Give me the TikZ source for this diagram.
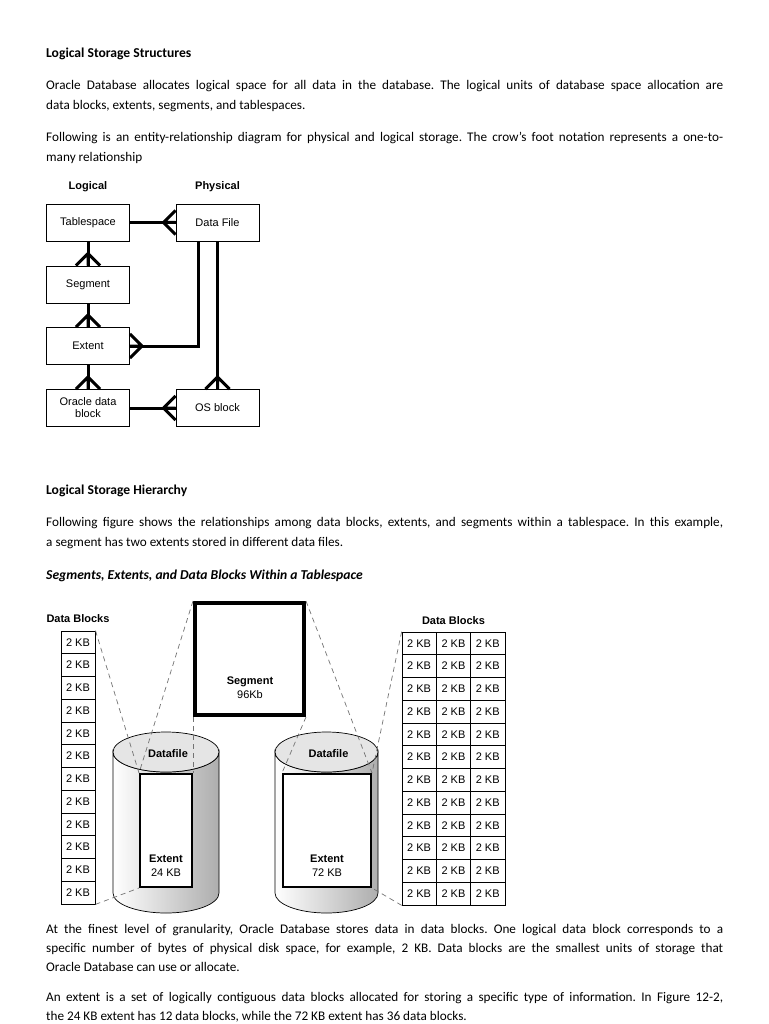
\documentclass[tikz,border=0pt]{standalone}
\usepackage{fontspec}
\setmainfont{Carlito}
\newfontfamily\diagfont{Liberation Sans}
\frenchspacing
\usetikzlibrary{calc}
\tikzset{
  para/.style={anchor=base west, inner sep=0pt, text width=677pt, align=justify, font=\fontsize{13.2}{20}\selectfont},
  heading/.style={anchor=base west, inner sep=0pt, font=\fontsize{13.6}{20}\selectfont\bfseries},
  erbox/.style={draw, line width=0.8pt, minimum width=83pt, minimum height=37pt, align=center, inner sep=1pt, font=\diagfont\fontsize{11}{12}\selectfont},
  er/.style={line width=3pt},
  erlabel/.style={font=\diagfont\fontsize{11}{12}\selectfont\bfseries},
  blk/.style={draw, line width=0.7pt, minimum width=34.3pt, minimum height=22.75pt, inner sep=0pt, font=\diagfont\fontsize{11}{12}\selectfont},
  extbox/.style={draw, line width=2pt, fill=white, inner sep=0pt},
  lbl/.style={font=\diagfont\fontsize{11}{14}\selectfont, align=center, inner sep=0pt},
  guide/.style={draw=black!55, line width=0.7pt, dash pattern=on 5pt off 4pt},
}
% crow's foot: #1 anchor on the "many" box, #2 offset of the apex, #3 half spread
\newcommand{\crowfoot}[3]{%
  \draw[er] ($(#1)+#2$) -- ($(#1)+#3$) ($(#1)+#2$) -- ($(#1)-#3$) ($(#1)+#2$) -- (#1);}

\begin{document}
\begin{tikzpicture}[x=1pt, y=-1pt]
  \useasboundingbox[fill=white] (0,0) rectangle (768,1024);
  % page text, top
  \node[heading] (h1) at (46,58) {Logical Storage Structures};
  \node[para] (p1) at (46,90) {Oracle Database allocates logical space for all data in the database. The logical units of database space allocation are \linebreak data blocks, extents, segments, and tablespaces.};
  \node[para] (p2) at (46,142) {Following is an entity-relationship diagram for physical and logical storage. The crow's foot notation represents a one-to-\linebreak many relationship};

  % entity-relationship diagram
  \node[erlabel] (logl) at (88,187) {Logical};
  \node[erlabel] (phys) at (217.5,187) {Physical};
  \node[erbox] (tbs) at (88,222.5) {Tablespace};
  \node[erbox] (dfile) at (217.5,222.5) {Data File};
  \node[erbox] (segm) at (88,284.5) {Segment};
  \node[erbox] (extn) at (88,346) {Extent};
  \node[erbox] (odb) at (88,408) {Oracle data\\block};
  \node[erbox] (osb) at (217.5,408) {OS block};
  \draw[er] (tbs.east) -- (dfile.west);
  \draw[er] (tbs.south) -- (segm.north);
  \draw[er] (segm.south) -- (extn.north);
  \draw[er] (extn.south) -- (odb.north);
  \draw[er] (odb.east) -- (osb.west);
  \draw[er] ([xshift=-19.5pt]dfile.south) |- (extn.east);
  \draw[er] (dfile.south) -- (osb.north);
  \crowfoot{dfile.west}{(-12,0)}{(0,12)}
  \crowfoot{segm.north}{(0,-12)}{(12,0)}
  \crowfoot{extn.north}{(0,-12)}{(12,0)}
  \crowfoot{odb.north}{(0,-12)}{(12,0)}
  \crowfoot{osb.west}{(-12,0)}{(0,12)}
  \crowfoot{extn.east}{(12,0)}{(0,12)}
  \crowfoot{osb.north}{(0,-12)}{(12,0)}

  % second section
  \node[heading] (h2) at (46,494) {Logical Storage Hierarchy};
  \node[para] (p3) at (46,526) {Following figure shows the relationships among data blocks, extents, and segments within a tablespace. In this example, \linebreak a segment has two extents stored in different data files.};
  \node[heading, font=\fontsize{13.6}{20}\selectfont\bfseries\itshape] (cap) at (46,579) {Segments, Extents, and Data Blocks Within a Tablespace};

  % data blocks
  \node[erlabel] (dbl) at (78,619) {Data Blocks};
  \foreach \i in {1,...,12}
    \node[blk] (L\i) at (78,{631+22.75*(\i-0.5)}) {2 KB};
  \node[erlabel] (dbr) at (453.5,621) {Data Blocks};
  \foreach \r in {1,...,12}
    \foreach \c in {1,2,3}
      \node[blk] (R\r-\c) at ({402+34.3*(\c-0.5)},{632+22.75*(\r-0.5)}) {2 KB};

  % segment
  \node[draw, line width=4pt, fill=white, minimum width=109pt, minimum height=112pt] (seg) at (249.5,659) {};
  \node[lbl] (segtxt) at (250,688) {\textbf{Segment}\\96Kb};

  % datafiles
  \foreach \cx/\rx/\n in {166/53/1, 326.5/51.5/2} {
    \shadedraw[left color=white, right color=black!32, line width=0.7pt]
      ({\cx-\rx},752) -- ({\cx-\rx},893) arc[start angle=180, end angle=0, x radius=\rx, y radius=20]
      -- ({\cx+\rx},752) arc[start angle=0, end angle=180, x radius=\rx, y radius=20] -- cycle;
    \draw[fill=black!10, line width=0.7pt] (\cx,752) ellipse[x radius=\rx, y radius=20];
    \node[erlabel] (df\n) at ({\cx+2},754) {Datafile};
  }

  % extents
  \node[extbox, minimum width=52pt, minimum height=113pt] (ext1) at (166,830.5) {};
  \node[lbl] (ext1txt) at (166,865.5) {\textbf{Extent}\\24 KB};
  \node[extbox, minimum width=88pt, minimum height=113pt] (ext2) at (327,830.5) {};
  \node[lbl] (ext2txt) at (327,865.5) {\textbf{Extent}\\72 KB};

  % dashed guides
  \draw[guide] (L1.north east) -- (ext1.north west);
  \draw[guide] (L12.south east) -- (ext1.south west);
  \draw[guide] (seg.north west) -- (ext1.north west);
  \draw[guide] (seg.south west) -- (ext1.north east);
  \draw[guide] (seg.north east) -- (ext2.north east);
  \draw[guide] (seg.south east) -- (ext2.north west);
  \draw[guide] (R1-1.north west) -- (ext2.north east);
  \draw[guide] (R12-1.south west) -- (ext2.south east);

  % page text, bottom
  \node[para, font=\fontsize{13.2}{19}\selectfont] (p4) at (46,933) {At the finest level of granularity, Oracle Database stores data in data blocks. One logical data block corresponds to a \linebreak specific number of bytes of physical disk space, for example, 2 KB. Data blocks are the smallest units of storage that \linebreak Oracle Database can use or allocate.};
  \node[para, font=\fontsize{13.2}{19}\selectfont] (p5) at (46,1001) {An extent is a set of logically contiguous data blocks allocated for storing a specific type of information. In Figure 12-2, \linebreak the 24 KB extent has 12 data blocks, while the 72 KB extent has 36 data blocks.};
\end{tikzpicture}
\end{document}
